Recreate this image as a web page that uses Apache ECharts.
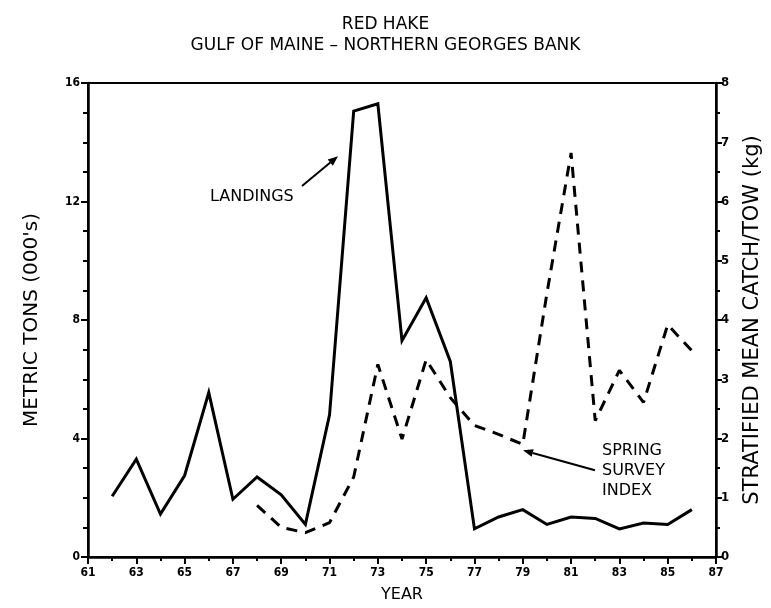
<!DOCTYPE html>
<html>
<head>
<meta charset="utf-8">
<script src="https://cdn.jsdelivr.net/npm/echarts@6/dist/echarts.min.js"></script>
<style>html,body{margin:0;padding:0;background:#fff}#c{width:771px;height:608px}</style>
</head>
<body>
<div id="c"></div>
<script>
const titleLines = ['RED HAKE', 'GULF OF MAINE \u2013 NORTHERN GEORGES BANK'];
const xName = 'YEAR';
const leftName = "METRIC TONS (000's)";
const rightName = 'STRATIFIED MEAN CATCH/TOW (kg)';
const landingYears = [62,63,64,65,66,67,68,69,70,71,72,73,74,75,76,77,78,79,80,81,82,83,84,85,86];
const landings =     [2.05,3.3,1.45,2.75,5.55,1.95,2.7,2.1,1.1,4.8,15.05,15.3,7.3,8.75,6.6,0.95,1.35,1.6,1.1,1.35,1.3,0.95,1.15,1.1,1.6];
const surveyYears = [68,69,70,71,72,73,74,75,76,77,78,79,80,81,82,83,84,85,86];
const survey =      [0.87,0.5,0.41,0.58,1.35,3.25,1.99,3.33,2.69,2.22,2.07,1.9,4.45,6.82,2.3,3.15,2.61,3.92,3.48];
const FONT = '"DejaVu Sans Condensed", "DejaVu Sans", sans-serif';
const FONTW = '"DejaVu Sans", sans-serif';

const chart = echarts.init(document.getElementById('c'), null, {renderer: 'canvas'});
const option = {
  backgroundColor: '#fff',
  animation: false,
  title: {
    text: titleLines.join('\n'),
    left: 'center', top: 9,
    textStyle: {fontFamily: FONTW, fontSize: 17, fontWeight: 'normal', color: '#000', lineHeight: 21}
  },
  grid: {left: 88, right: 55, top: 83, bottom: 48, show: true, borderColor: '#000', borderWidth: 2, backgroundColor: 'transparent'},
  xAxis: {
    type: 'value', min: 61, max: 87, interval: 2,
    name: xName, nameLocation: 'middle', nameGap: 30,
    nameTextStyle: {fontFamily: FONTW, fontSize: 16, color: '#000'},
    axisLine: {lineStyle: {color: '#000', width: 2.5}},
    axisTick: {show: true, length: 7, lineStyle: {color: '#000', width: 2}},
    minorTick: {show: true, splitNumber: 2, length: 4, lineStyle: {color: '#000', width: 2}},
    axisLabel: {fontFamily: FONT, fontSize: 12, fontWeight: 'bold', color: '#000', margin: 10},
    splitLine: {show: false}
  },
  yAxis: [{
    type: 'value', min: 0, max: 16, interval: 4, position: 'left',
    name: leftName, nameLocation: 'middle', nameGap: 46, nameRotate: 90,
    nameTextStyle: {fontFamily: FONTW, fontSize: 20, color: '#000'},
    axisLine: {show: true, lineStyle: {color: '#000', width: 2.5}},
    axisTick: {show: true, length: 7, lineStyle: {color: '#000', width: 2}},
    minorTick: {show: true, splitNumber: 4, length: 5, lineStyle: {color: '#000', width: 2}},
    axisLabel: {fontFamily: FONT, fontSize: 12, fontWeight: 'bold', color: '#000', margin: 8},
    splitLine: {show: false}
  }, {
    type: 'value', min: 0, max: 8, interval: 1, position: 'right',
    name: rightName, nameLocation: 'middle', nameGap: 26, nameRotate: 90,
    nameTextStyle: {fontFamily: FONTW, fontSize: 21, color: '#000'},
    axisLine: {show: true, lineStyle: {color: '#000', width: 2.5}},
    axisTick: {show: true, length: 6, lineStyle: {color: '#000', width: 2}},
    minorTick: {show: true, splitNumber: 2, length: 4, lineStyle: {color: '#000', width: 2}},
    axisLabel: {fontFamily: FONT, fontSize: 13, fontWeight: 'bold', color: '#000', margin: 5},
    splitLine: {show: false}
  }],
  series: [{
    name: 'Landings', type: 'line', yAxisIndex: 0, symbol: 'none',
    data: landingYears.map((y, i) => [y, landings[i]]),
    lineStyle: {color: '#000', width: 3, join: 'miter'}
  }, {
    name: 'Spring survey index', type: 'line', yAxisIndex: 1, symbol: 'none',
    data: surveyYears.map((y, i) => [y, survey[i]]),
    lineStyle: {color: '#000', width: 3, type: [11, 8]}
  }]
};
chart.setOption(option);

// annotations anchored in data coordinates (x year, y left axis)
function px(x, y) { return chart.convertToPixel({xAxisIndex: 0, yAxisIndex: 0}, [x, y]); }
function arrow(from, to) {
  const a = px(from[0], from[1]), b = px(to[0], to[1]);
  const ang = Math.atan2(b[1] - a[1], b[0] - a[0]);
  const L = 10, W = 4;
  const bx = b[0] - L * Math.cos(ang), by = b[1] - L * Math.sin(ang);
  const nx = -Math.sin(ang) * W, ny = Math.cos(ang) * W;
  return [
    {type: 'line', shape: {x1: a[0], y1: a[1], x2: bx, y2: by}, style: {stroke: '#000', lineWidth: 2}},
    {type: 'polygon', shape: {points: [[b[0], b[1]], [bx + nx, by + ny], [bx - nx, by - ny]]}, style: {fill: '#000'}}
  ];
}
const lp = px(66.05, 12.15);
const sp = px(82.28, 3.92);
const textStyle = {fontFamily: FONTW, fontSize: 16, fill: '#000'};
chart.setOption({
  graphic: [
    {type: 'text', x: lp[0], y: lp[1], style: Object.assign({text: 'LANDINGS', verticalAlign: 'middle'}, textStyle)},
    {type: 'text', x: sp[0], y: sp[1], style: Object.assign({text: 'SPRING\nSURVEY\nINDEX', lineHeight: 20, verticalAlign: 'top'}, textStyle)}
  ].concat(arrow([69.86, 12.52], [71.35, 13.53]), arrow([81.99, 2.93], [79.01, 3.6]))
});
</script>
</body>
</html>
